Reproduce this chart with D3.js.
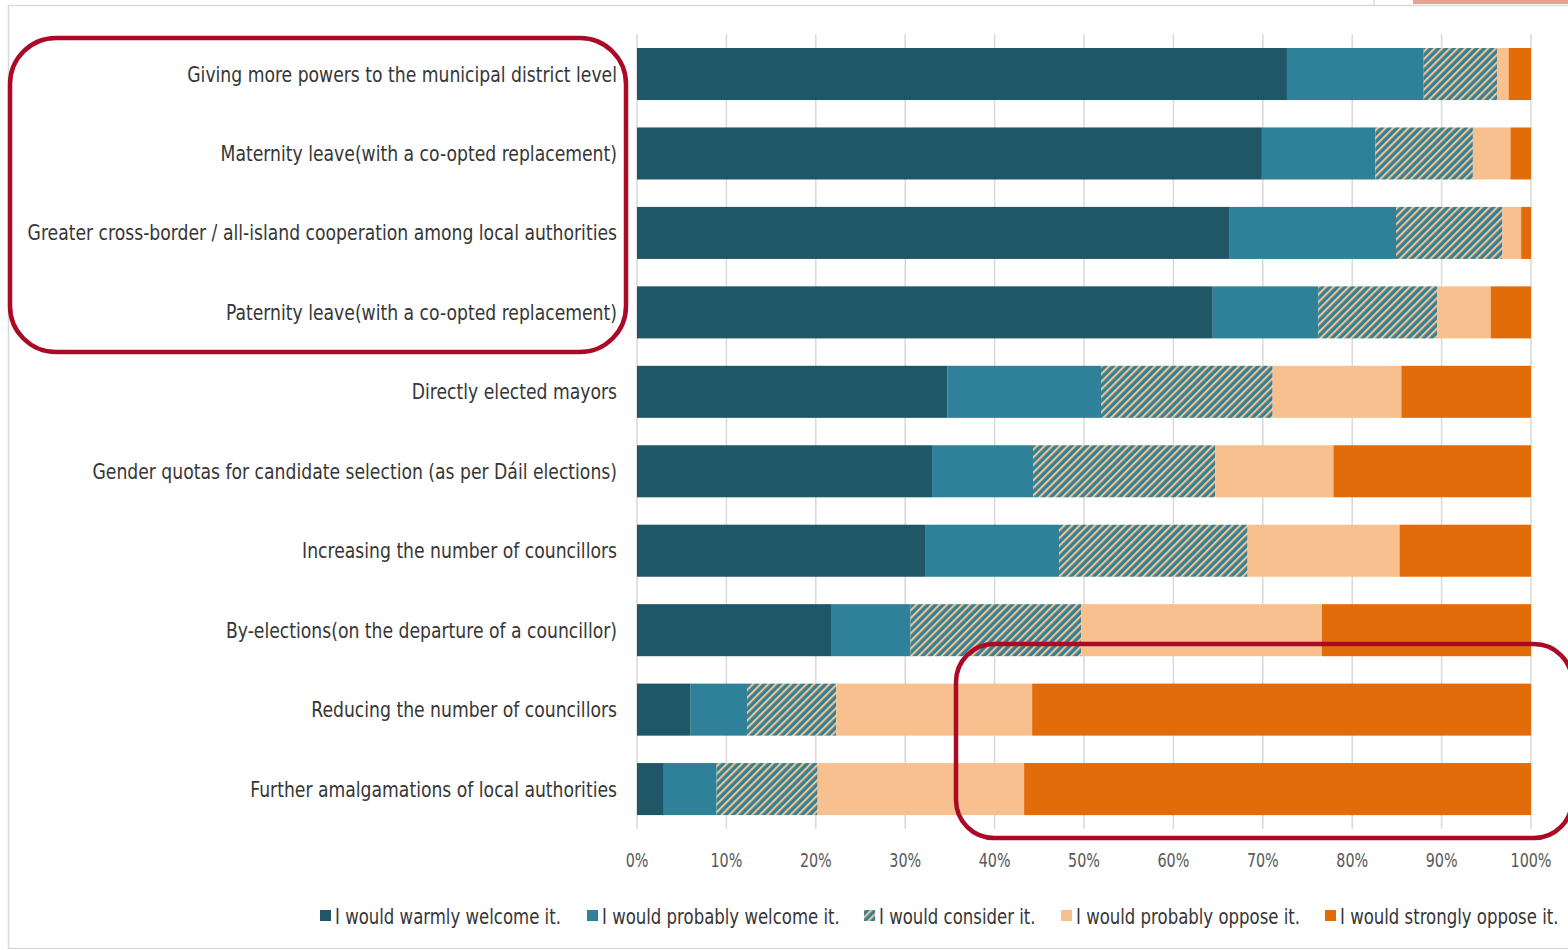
<!DOCTYPE html>
<html>
<head>
<meta charset="utf-8">
<script src="https://cdn.jsdelivr.net/npm/d3@7"></script>
<style>
html,body{margin:0;padding:0;background:#fff;}
svg{display:block;}
text{font-family:"Liberation Sans Narrow","DejaVu Sans Condensed","Lato",sans-serif;}
</style>
</head>
<body>
<svg id="chart" width="1568" height="950"></svg>
<script>
const categories = [
  "Giving more powers to the municipal district level",
  "Maternity leave(with a co-opted replacement)",
  "Greater cross-border / all-island cooperation among local authorities",
  "Paternity leave(with a co-opted replacement)",
  "Directly elected mayors",
  "Gender quotas for candidate selection (as per Dáil elections)",
  "Increasing the number of councillors",
  "By-elections(on the departure of a councillor)",
  "Reducing the number of councillors",
  "Further amalgamations of local authorities"
];
const seriesNames = [
  "I would warmly welcome it.",
  "I would probably welcome it.",
  "I would consider it.",
  "I would probably oppose it.",
  "I would strongly oppose it."
];
const warmlyWelcome   = [72.7, 69.9, 66.3, 64.4, 34.7, 33.0, 32.3, 21.7, 6.0, 3.0];
const probablyWelcome = [15.3, 12.7, 18.6, 11.8, 17.2, 11.3, 14.9, 8.9, 6.3, 5.9];
const wouldConsider   = [8.2, 10.9, 11.9, 13.3, 19.2, 20.4, 21.1, 19.1, 10.0, 11.3];
const probablyOppose  = [1.3, 4.2, 2.1, 6.0, 14.4, 13.2, 17.0, 26.9, 21.9, 23.1];
const stronglyOppose  = [2.5, 2.3, 1.1, 4.5, 14.5, 22.1, 14.7, 23.4, 55.8, 56.7];
const tickValues = [0,10,20,30,40,50,60,70,80,90,100];
const tickLabels = ["0%","10%","20%","30%","40%","50%","60%","70%","80%","90%","100%"];

const colors = ["#1f5766","#2e8199","url(#hatch)","#f9c08f","#e36c0a"];

const svg = d3.select("#chart");
const defs = svg.append("defs");
const pat = defs.append("pattern").attr("id","hatch")
  .attr("patternUnits","userSpaceOnUse").attr("width",5.4).attr("height",5.4)
  .attr("patternTransform","rotate(45)");
pat.append("rect").attr("width",5.4).attr("height",5.4).attr("fill","#2e8199");
pat.append("rect").attr("x",0).attr("width",2.1).attr("height",5.4).attr("fill","#f7bf8c");

// frame
svg.append("rect").attr("x",8.5).attr("y",5.5).attr("width",1600).attr("height",943)
  .attr("fill","none").attr("stroke","#d9d9d9").attr("stroke-width",1.5);
svg.append("rect").attr("x",1413).attr("y",0).attr("width",155).attr("height",4).attr("fill","#e8a294");
svg.append("line").attr("x1",1374).attr("x2",1374).attr("y1",0).attr("y2",5).attr("stroke","#ccc");

const x = d3.scaleLinear().domain([0,100]).range([637,1531]);
const y = d3.scaleBand().domain(categories).range([34.3,828.8]).paddingInner(0.345).paddingOuter(0.1725);

// gridlines
svg.append("g").selectAll("line").data(tickValues).join("line")
  .attr("x1",d=>x(d)).attr("x2",d=>x(d)).attr("y1",y.range()[0]).attr("y2",y.range()[1])
  .attr("stroke","#d9d9d9").attr("stroke-width",1.5);

const seriesData = [warmlyWelcome, probablyWelcome, wouldConsider, probablyOppose, stronglyOppose];
const rows = categories.map((c,i)=>{
  const o = {cat:c};
  seriesNames.forEach((s,j)=>o[s]=seriesData[j][i]);
  return o;
});
const stacked = d3.stack().keys(seriesNames)(rows);

svg.append("g").selectAll("g").data(stacked).join("g")
  .attr("fill",(d,i)=>colors[i])
  .selectAll("rect").data(d=>d).join("rect")
  .attr("x",d=>x(d[0])).attr("width",d=>x(d[1])-x(d[0]))
  .attr("y",d=>y(d.data.cat)).attr("height",y.bandwidth());

// helper: horizontal condensing factor so a reference string reaches a target width
function condense(sel, refIndex, targetWidth){
  const w = sel.nodes()[refIndex].getComputedTextLength();
  return targetWidth / w;
}

// category labels
const catG = svg.append("g").selectAll("g").data(categories).join("g");
const catT = catG.append("text")
  .attr("text-anchor","end").attr("dy","0.35em").attr("font-size",21.5).attr("fill","#363636").text(d=>d);
const fCat = condense(catT, 0, 430);
catG.attr("transform",d=>`translate(617,${y(d)+y.bandwidth()/2}) scale(${fCat},1)`);

// x axis labels
const axG = svg.append("g").selectAll("g").data(tickValues).join("g");
const axT = axG.append("text").attr("text-anchor","middle").attr("dy","0.35em")
  .attr("font-size",19).attr("fill","#595959").text((d,i)=>tickLabels[i]);
const fAx = condense(axT, 10, 41);
axG.attr("transform",d=>`translate(${x(d)},860) scale(${fAx},1)`);

// legend
const legendX = [320, 587, 864, 1061, 1325];
const lg = svg.append("g").selectAll("g").data(seriesNames).join("g")
  .attr("transform",(d,i)=>`translate(${legendX[i]},916)`);
lg.append("rect").attr("x",0).attr("y",-6).attr("width",11).attr("height",11)
  .attr("fill",(d,i)=>colors[i]);
const lgTG = lg.append("g");
const lgT = lgTG.append("text").attr("dy","0.35em").attr("font-size",21.5)
  .attr("fill","#363636").text(d=>d);
const fLg = condense(lgT, 0, 226);
lgTG.attr("transform",`translate(15,0) scale(${fLg},1)`);

// highlight boxes
svg.append("rect").attr("x",10).attr("y",38).attr("width",616).attr("height",314)
  .attr("rx",46).attr("ry",46).attr("fill","none").attr("stroke","#ab0a26").attr("stroke-width",4.5);
svg.append("rect").attr("x",956).attr("y",644).attr("width",616).attr("height",194)
  .attr("rx",38).attr("ry",38).attr("fill","none").attr("stroke","#ab0a26").attr("stroke-width",4.5);
</script>
</body>
</html>
